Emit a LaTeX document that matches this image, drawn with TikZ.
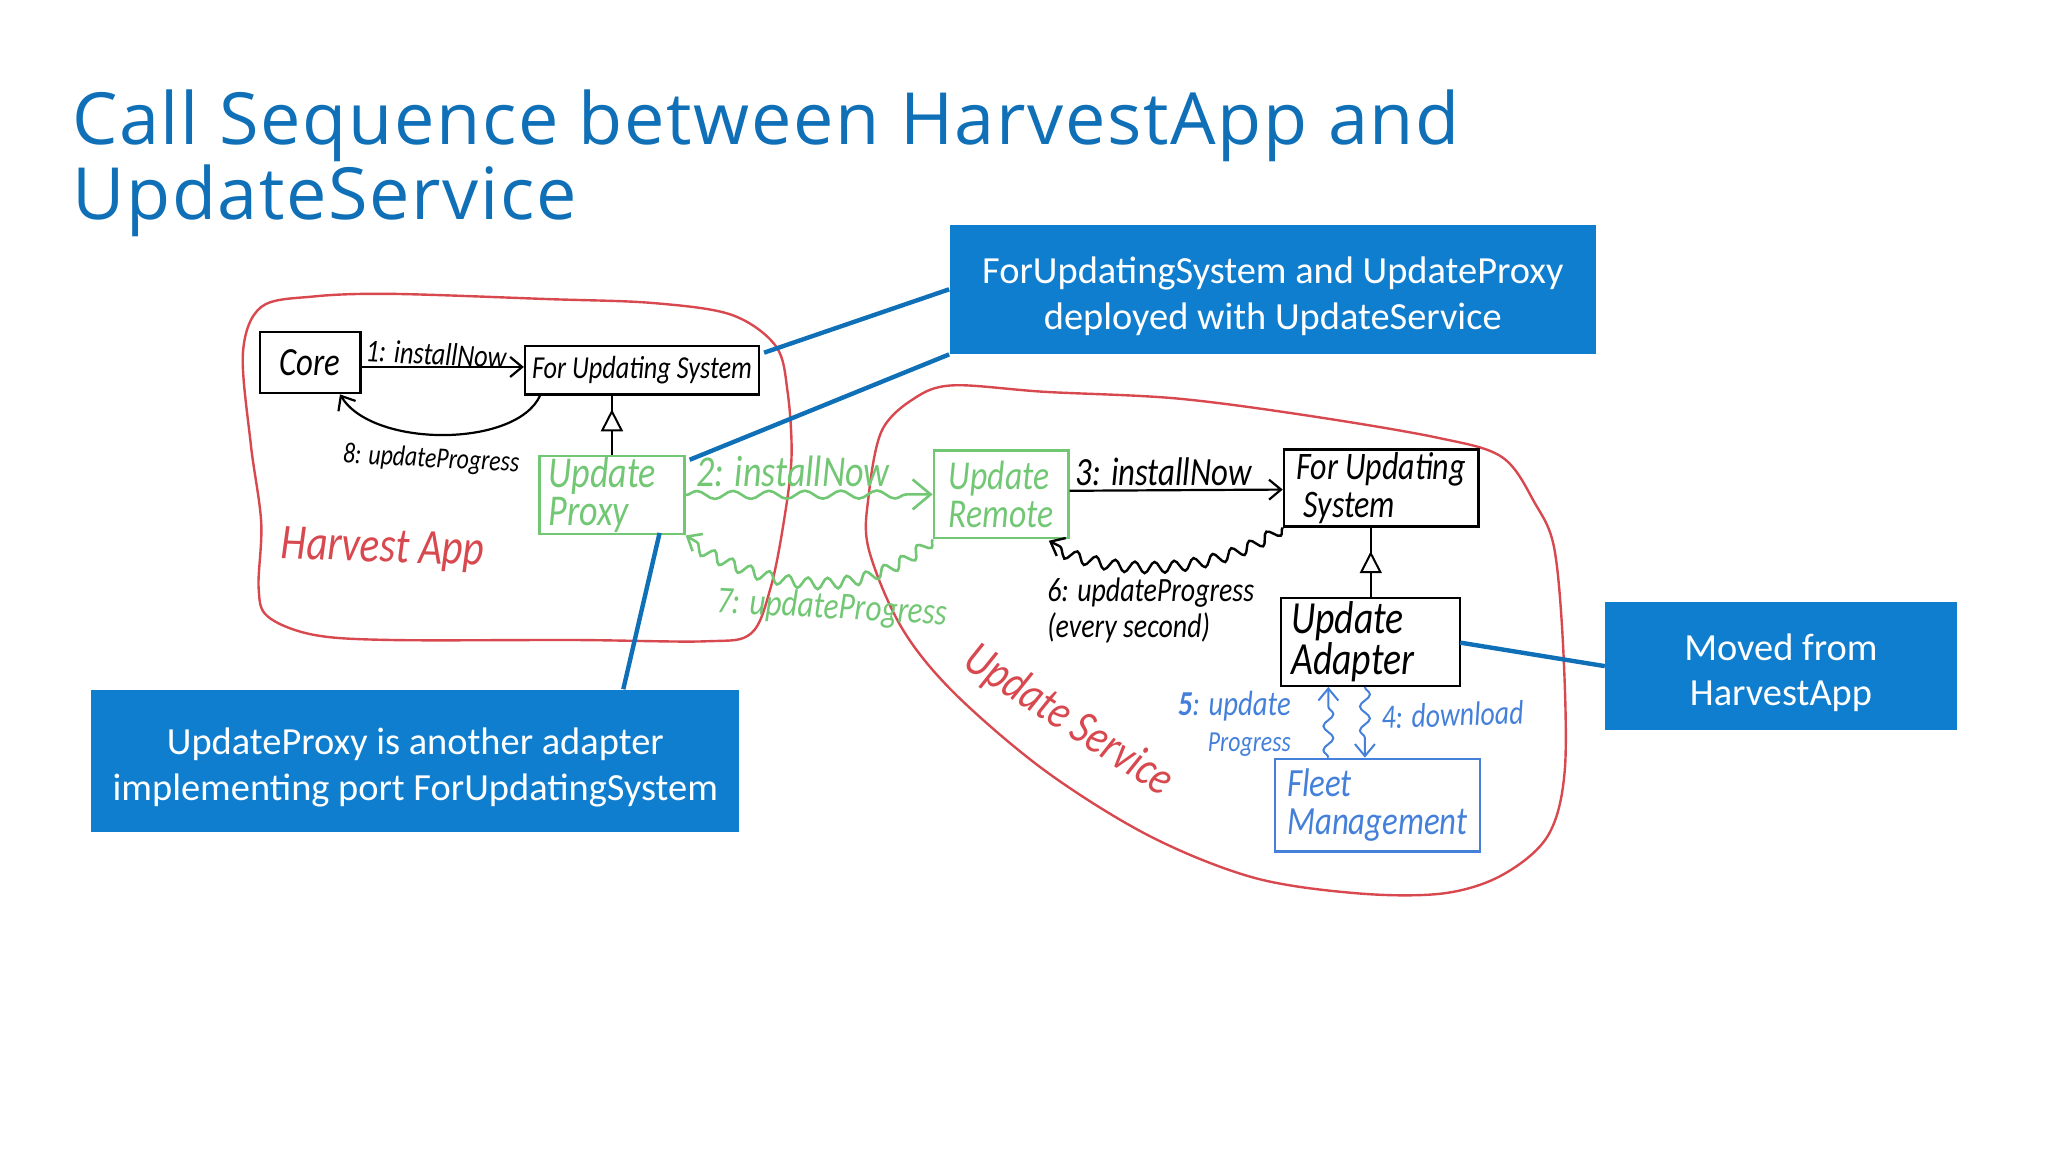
\documentclass[tikz,border=0pt]{standalone}
\usepackage{fontspec}
\usetikzlibrary{arrows.meta}
\usetikzlibrary{decorations.pathmorphing}
\usetikzlibrary{decorations.markings}
\newfontfamily\titlefont[LetterSpace=2.3]{Open Sans}
\newfontfamily\notefont{Carlito}
\newfontfamily\handfont[FakeStretch=0.82]{Carlito}
\newcommand{\notetop}{\rule{0pt}{20pt}}
\definecolor{slideblue}{HTML}{0F70B7}
\definecolor{notefill}{HTML}{107ECF}
\definecolor{penred}{HTML}{D8484F}
\definecolor{pengreen}{HTML}{72C774}
\definecolor{penblue}{HTML}{4480DA}
\tikzset{
    hand/.style={font=\handfont\itshape\fontsize{#1}{18pt}\selectfont,inner sep=0pt,align=left},
    hand/.default=15pt,
    handbox/.style={draw,line width=1.2pt,rectangle,inner sep=0pt,align=left,font=\handfont\itshape\fontsize{#1}{19pt}\selectfont},
    note/.style={fill=notefill,text=white,inner sep=0pt,align=center,font=\notefont\fontsize{19.2pt}{22.9pt}\selectfont},
    noteline/.style={slideblue,line width=2.2pt},
    blob/.style={penred,line width=1.2pt},
    call/.style={line width=1.1pt,-{Straight Barb[length=6pt,width=10pt]}},
    wavy/.style n args={2}{decorate,decoration={snake,amplitude=#1,segment length=#2,post=lineto,post length=6pt},-{Straight Barb[length=6pt,width=10pt]}},
    realize/.style={line width=1pt,postaction={decorate},decoration={markings,mark=at position #1 with {\arrow{Triangle[length=11pt,width=11pt,fill=white,line width=1pt]}}}}
}
\begin{document}
\begin{tikzpicture}[x=0.65306pt,y=-0.65306pt]
    \useasboundingbox (0,0) rectangle (1568,882);

    \node[anchor=west,slideblue,inner sep=0pt,align=left,font=\titlefont\fontsize{36pt}{37.2pt}\selectfont] (title) at (55,125)
    {Call Sequence between HarvestApp and\\UpdateService};

    % the two deployment units
    \draw[blob] plot[smooth cycle,tension=0.55] coordinates {(200,235) (240,227) (300,225) (420,229) (500,232) (560,241) (594,265) (603,300) (606,350) (600,400) (590,450) (575,485) (540,491) (440,490) (300,490) (240,486) (205,472) (198,450) (200,400) (192,340) (186,270)};
    \draw[blob] plot[smooth cycle,tension=0.55] coordinates {(730,295) (800,300) (900,305) (1000,318) (1100,335) (1150,350) (1175,385) (1190,420) (1197,500) (1198,590) (1185,640) (1150,670) (1105,684) (1040,684) (960,672) (880,640) (800,590) (730,530) (690,480) (665,420) (665,380) (675,330) (700,305)};
    \node[hand=25pt,penred,rotate=-2] (harvestLabel) at (293,421) {Harvest App};
    \node[hand=24pt,penred,rotate=-33] (serviceLabel) at (818,552) {Update Service};

    % left side
    \node[handbox=20pt,minimum width=50.3pt,minimum height=30.7pt] (core) at (237.5,277.5) {Core};
    \node[handbox=16pt,minimum width=116.9pt,minimum height=24.2pt] (portLeft) at (491.5,283.5) {For Updating System};
    \node[handbox=22pt,pengreen,minimum width=72.5pt,minimum height=39.2pt,text width=63.5pt] (proxy) at (468.5,379) {Update\\Proxy};
    \draw[call] (core.-5) -- (core.-5 -| portLeft.west) ;
    \node[hand=16pt,rotate=-3] (callOne) at (334,271) {1: installNow};
    \draw[call] (portLeft.194.5) .. controls (395,343) and (285,343) .. (core.313);
    \node[hand=14.5pt,rotate=-3] (callEight) at (330,352) {8: updateProgress};
    \draw[realize=0.77] (proxy.north) -- (proxy.north |- portLeft.south);

    % the remote connection
    \node[handbox=20.5pt,pengreen,minimum width=67.3pt,minimum height=43.8pt] (remote) at (766.5,378.5) {Update\\Remote};
    \draw[pengreen,line width=1.3pt,wavy={2pt}{18pt},-{Straight Barb[length=9pt,width=15pt]}] (proxy.east) -- (remote.west);
    \node[hand=22pt,pengreen] (callTwo) at (607,361) {2: installNow};
    \draw[pengreen,line width=1.3pt,wavy={2.8pt}{10pt}] (remote.south west) .. controls (660,460) and (590,450) .. (proxy.south east);
    \node[hand=19pt,pengreen,rotate=-3] (callSeven) at (637,466) {7: updateProgress};

    % right side
    \node[handbox=19.5pt,minimum width=97.3pt,minimum height=38.5pt] (portRight) at (1057.5,373.5) {For Updating\\\ System};
    \node[handbox=23pt,minimum width=89.5pt,minimum height=43.8pt,text width=79.5pt] (adapter) at (1049.5,491.5) {Update\\Adapter};
    \node[handbox=20pt,penblue,minimum width=102.5pt,minimum height=46.4pt] (fleet) at (1054.5,616.5) {Fleet\\Management};
    \draw[call] (remote.3.9) -- (portRight.181);
    \node[hand=20pt] (callThree) at (891,361) {3: installNow};
    \coordinate (remoteFoot) at (803,414);
    \draw[line width=1.2pt,wavy={2.8pt}{10pt}] (portRight.south west) .. controls (930,440) and (850,440) .. (remoteFoot);
    \node[hand=17pt] (callSix) at (881,467) {6: updateProgress\\(every second)};
    \draw[realize=0.66] (adapter.north) -- (adapter.north |- portRight.south);
    \draw[penblue,line width=1pt,wavy={2.5pt}{12pt}] (fleet.north -| 1017,0) -- (adapter.south -| 1017,0);
    \draw[penblue,line width=1pt,wavy={2.5pt}{12pt}] (adapter.south -| 1045,0) -- (fleet.north -| 1045,0);
    \node[hand=17pt,penblue,rotate=2] (callFour) at (1112,547) {4: download};
    \node[hand=17.5pt,penblue,align=right] (callFive) at (945,554) {\textbf{5}: update\\{\fontsize{14.5pt}{18pt}\selectfont Progress}};

    % comments on the slide
    \node[note,minimum width=323.3pt,minimum height=64.7pt] (noteDeploy) at (974.5,221.5) {\notetop ForUpdatingSystem and UpdateProxy\\deployed with UpdateService};
    \node[note,minimum width=323.9pt,minimum height=71.2pt] (noteProxy) at (318,582.5) {\notetop UpdateProxy is another adapter\\implementing port ForUpdatingSystem};
    \node[note,minimum width=175.7pt,minimum height=64pt] (noteMoved) at (1363.5,510) {\notetop Moved from\\HarvestApp};
    \coordinate (tipPort) at (585,270);
    \coordinate (tipProxyTop) at (528,352);
    \coordinate (tipProxyBottom) at (505,408);
    \coordinate (tipAdapter) at (1118,492);
    \draw[noteline] (noteDeploy.west) -- (tipPort);
    \draw[noteline] (noteDeploy.south west) -- (tipProxyTop);
    \draw[noteline] (noteProxy.19.8) -- (tipProxyBottom);
    \draw[noteline] (noteMoved.west) -- (tipAdapter);
\end{tikzpicture}
\end{document}
